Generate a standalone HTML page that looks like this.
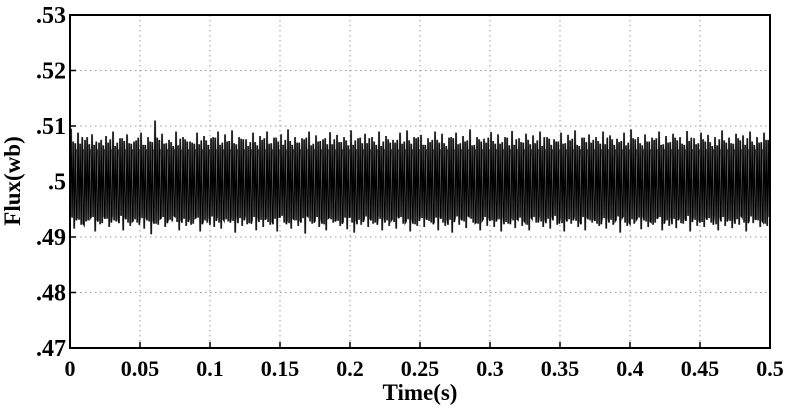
<!DOCTYPE html>
<html><head><meta charset="utf-8"><style>
html,body{margin:0;padding:0;background:#fff;}
svg{display:block;font-family:"Liberation Serif",serif;font-weight:bold;}
</style></head><body>
<svg id="chart" width="792" height="410" viewBox="0 0 792 410" xmlns="http://www.w3.org/2000/svg">
<g id="grid"></g>
<g id="series"></g>
<rect x="70" y="15" width="700" height="333" fill="none" stroke="#000" stroke-width="2"/>
<g id="xt"></g>
<g id="yt"></g>
<text x="420" y="400" font-size="23" text-anchor="middle">Time(s)</text>
<text x="20" y="181" font-size="23" text-anchor="middle" transform="rotate(-90 20 181)">Flux(wb)</text>
</svg>
<script>
const xTicks=[0,0.05,0.1,0.15,0.2,0.25,0.3,0.35,0.4,0.45,0.5];
const xTickLabels=["0","0.05","0.1","0.15","0.2","0.25","0.3","0.35","0.4","0.45","0.5"];
const yTicks=[0.47,0.48,0.49,0.5,0.51,0.52,0.53];
const yTickLabels=[".47",".48",".49",".5",".51",".52",".53"];
const peakHi=[.5095,.5088,.5075,.5085,.5070,.5082,.5090,.5078,.5085,.5072,.5088,.5080,.5110,.5086,.5075,.5090,.5080,.5072,.5088,.5082,.5078,.5090,.5085,.5092,.5080,.5076,.5088,.5082,.5090,.5079,.5085,.5094,.5080,.5078,.5090,.5083,.5076,.5089,.5084,.5080,.5092,.5078,.5086,.5080,.5090,.5082,.5075,.5088,.5092,.5080,.5084,.5078,.5090,.5086,.5079,.5088,.5082,.5094,.5080,.5077,.5089,.5085,.5080,.5091,.5078,.5086,.5083,.5090,.5080,.5076,.5088,.5084,.5092,.5079,.5085,.5080,.5090,.5083,.5077,.5088,.5094,.5080,.5085,.5079,.5090,.5082,.5086,.5080,.5091,.5078,.5088,.5084,.5080,.5092,.5079,.5086,.5083,.5090,.5080,.5088];
const peakLo=[.4915,.4922,.4930,.4910,.4925,.4918,.4928,.4912,.4920,.4926,.4915,.4905,.4922,.4918,.4928,.4912,.4920,.4924,.4910,.4926,.4918,.4915,.4928,.4908,.4920,.4925,.4912,.4918,.4922,.4910,.4926,.4915,.4920,.4906,.4924,.4918,.4912,.4926,.4920,.4914,.4908,.4922,.4918,.4926,.4912,.4920,.4915,.4924,.4910,.4920,.4918,.4926,.4912,.4920,.4908,.4922,.4916,.4926,.4912,.4920,.4918,.4910,.4924,.4916,.4920,.4912,.4926,.4918,.4915,.4922,.4910,.4924,.4918,.4912,.4926,.4920,.4915,.4922,.4908,.4920,.4924,.4914,.4918,.4926,.4912,.4920,.4916,.4924,.4910,.4920,.4918,.4926,.4912,.4920,.4916,.4922,.4910,.4925,.4918,.4920];
const midHi=[.5072,.5068,.5080,.5066,.5075,.5070,.5064,.5078,.5069,.5074,.5066,.5072,.5079,.5068,.5071,.5065,.5076,.5070,.5067,.5074,.5080,.5066,.5072,.5069,.5077,.5064,.5071,.5075,.5068,.5079,.5066,.5073,.5070,.5076,.5065,.5072,.5078,.5067,.5071,.5074,.5066,.5079,.5069,.5072,.5064,.5076,.5070,.5068,.5074,.5078,.5066,.5071,.5075,.5069,.5080,.5067,.5072,.5065,.5076,.5070,.5073,.5068,.5079,.5066,.5071,.5075,.5069,.5064,.5077,.5072,.5068,.5074,.5066,.5079,.5070,.5073,.5067,.5076,.5071,.5065,.5078,.5069,.5072,.5075,.5066,.5070,.5079,.5068,.5073,.5067,.5076,.5071,.5065,.5074,.5069,.5078,.5066,.5072,.5070,.5075];
const midLo=[.4930,.4935,.4922,.4936,.4928,.4933,.4938,.4925,.4932,.4929,.4936,.4930,.4924,.4934,.4931,.4937,.4926,.4932,.4935,.4928,.4922,.4936,.4930,.4933,.4925,.4938,.4931,.4927,.4934,.4923,.4936,.4929,.4932,.4926,.4937,.4930,.4924,.4935,.4931,.4928,.4936,.4923,.4933,.4930,.4938,.4926,.4932,.4934,.4928,.4924,.4936,.4931,.4927,.4933,.4922,.4935,.4930,.4937,.4926,.4932,.4929,.4934,.4923,.4936,.4931,.4927,.4933,.4938,.4925,.4930,.4934,.4928,.4936,.4923,.4932,.4929,.4935,.4926,.4931,.4937,.4924,.4933,.4930,.4927,.4936,.4932,.4923,.4934,.4929,.4935,.4926,.4931,.4937,.4928,.4933,.4924,.4936,.4930,.4932,.4927];
const coreHi=0.5058, coreLo=0.4942;
const X0=70,X1=770,Y0=348,Y1=15;
const sx=v=>X0+(v-0)/(0.5-0)*(X1-X0);
const sy=v=>Y0-(v-0.47)/(0.53-0.47)*(Y0-Y1);
const NS="http://www.w3.org/2000/svg";
const grid=document.getElementById('grid'),xt=document.getElementById('xt'),yt=document.getElementById('yt'),ser=document.getElementById('series');
function mk(t,a,p){const e=document.createElementNS(NS,t);for(const k in a)e.setAttribute(k,a[k]);p.appendChild(e);return e;}
xTicks.forEach((v,i)=>{const x=sx(v);
 if(i>0&&i<xTicks.length-1){const g=mk('line',{x1:x,x2:x,y1:Y1,y2:Y0,stroke:'#999','stroke-dasharray':'1.5,3.5'},grid);
 
 }
 const tk=mk('line',{x1:x,x2:x,y1:Y0,y2:Y0-6,stroke:'#000','stroke-width':1.5},xt);
 
 
 const t=mk('text',{x:x,y:376,'font-size':22,'text-anchor':'middle'},xt);t.textContent=xTickLabels[i];
 
 });
yTicks.forEach((v,i)=>{const y=sy(v);
 if(i>0&&i<yTicks.length-1){const g=mk('line',{x1:X0,x2:X1,y1:y,y2:y,stroke:'#999','stroke-dasharray':'1.5,3.5'},grid);
 
 }
 const tk=mk('line',{x1:X0,x2:X0+6,y1:y,y2:y,stroke:'#000','stroke-width':1.5},yt);
 
 
 const t=mk('text',{x:66,y:y+8,'font-size':24,'text-anchor':'end'},yt);t.textContent=yTickLabels[i];
 
 });
const core=mk('rect',{x:sx(0),y:sy(coreHi),width:sx(0.5)-sx(0),height:sy(coreLo)-sy(coreHi),fill:'#000'},ser);


const n=peakHi.length;let d='';
for(let i=0;i<n;i++){
 const w=0.5/n;const t0=0.5*i/n;
 d+=(i?'L':'M')+sx(t0)+','+sy(midLo[i])
  +'L'+sx(t0+w*0.15)+','+sy(peakHi[i])
  +'L'+sx(t0+w*0.3)+','+sy(midLo[(i+37)%n])
  +'L'+sx(t0+w*0.45)+','+sy(midHi[i])
  +'L'+sx(t0+w*0.6)+','+sy(peakLo[i])
  +'L'+sx(t0+w*0.75)+','+sy(midHi[(i+53)%n])
  +'L'+sx(t0+w*0.9)+','+sy(midLo[(i+11)%n]);
}
const g2=mk('path',{d:d,fill:'none',stroke:'#777','stroke-width':2},ser);


const p=mk('path',{d:d,fill:'none',stroke:'#000','stroke-width':1.1},ser);


</script>
</body></html>
